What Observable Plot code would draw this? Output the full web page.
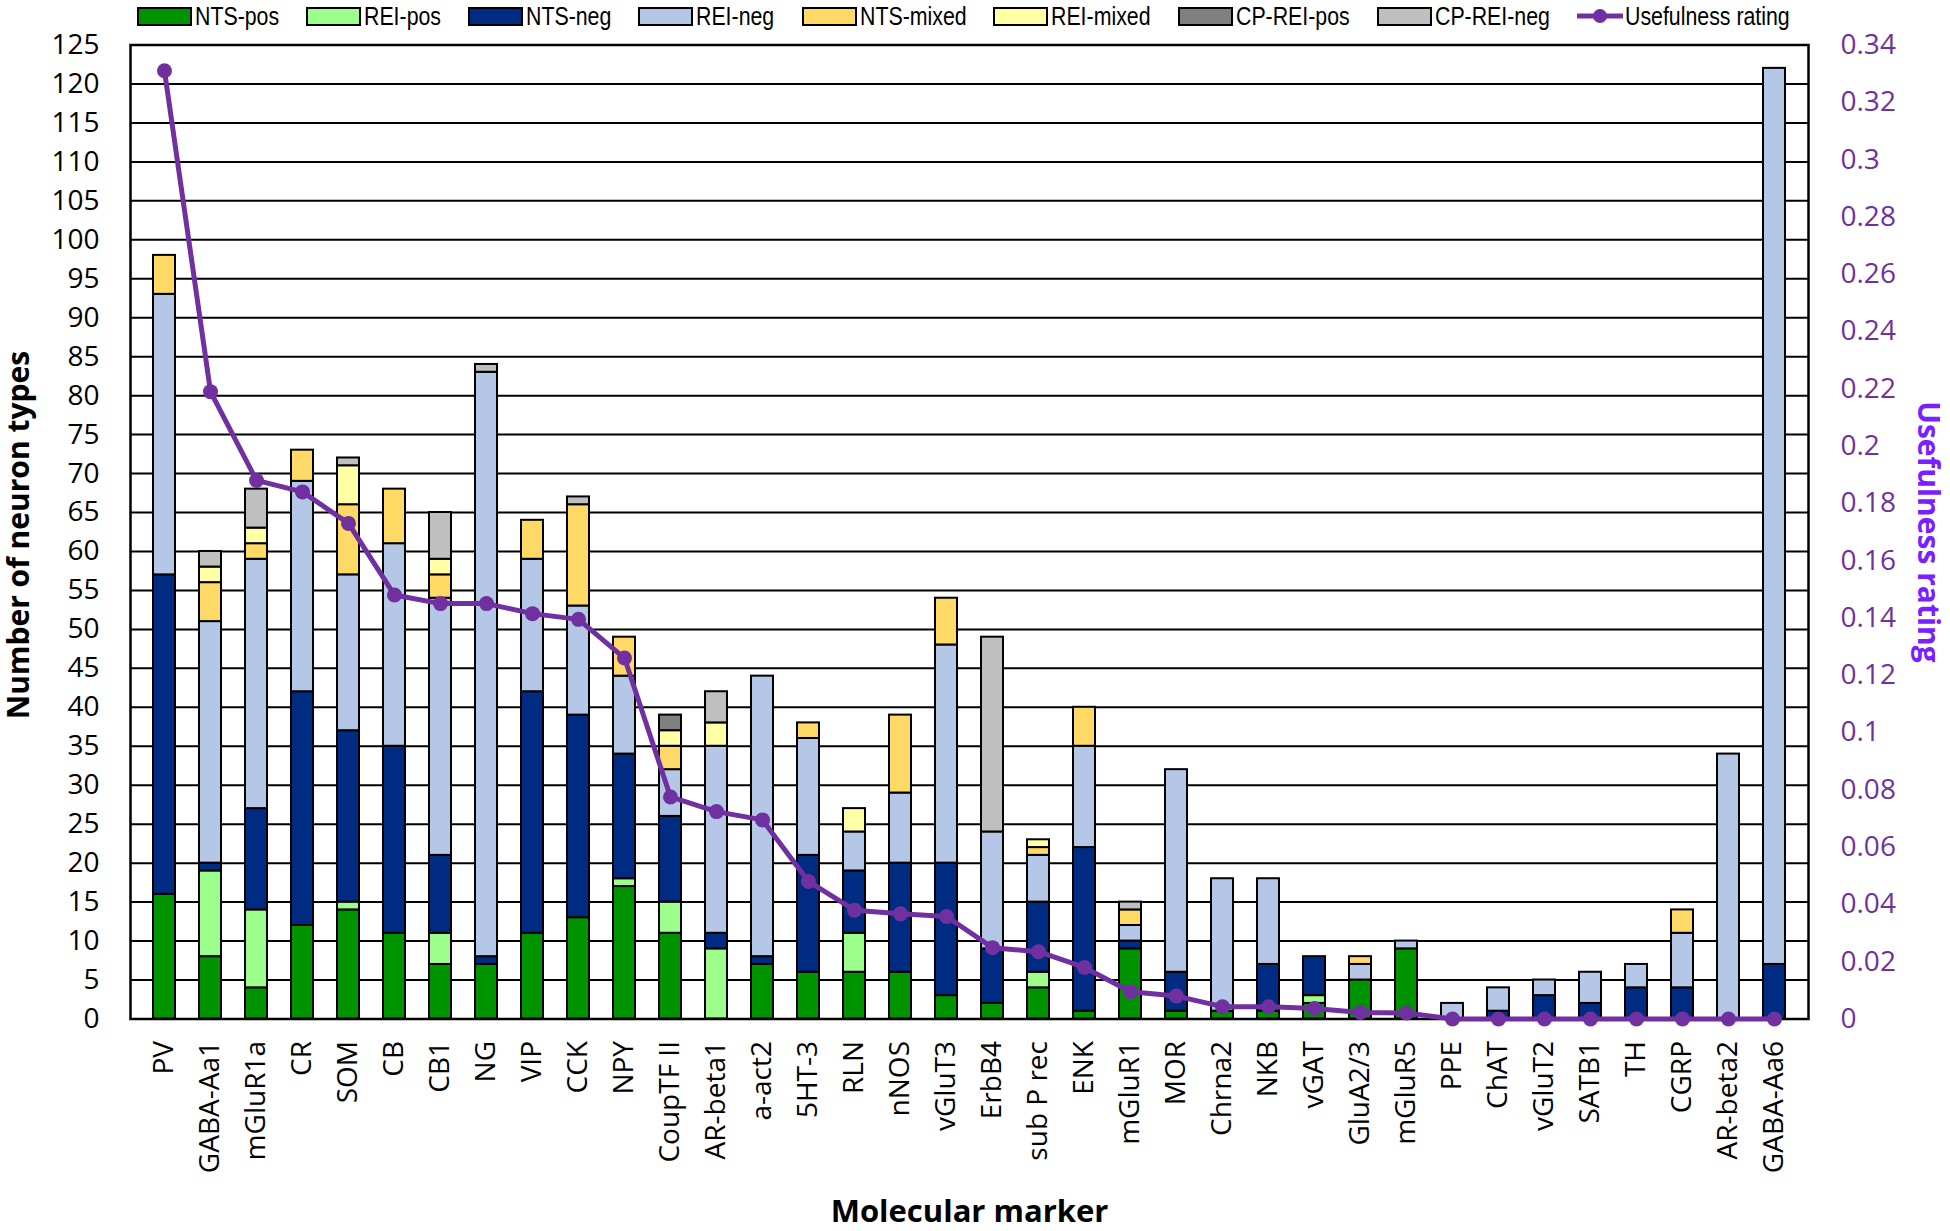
<!DOCTYPE html>
<html>
<head>
<meta charset="utf-8">
<script src="https://cdn.jsdelivr.net/npm/d3@7"></script>
<script src="https://cdn.jsdelivr.net/npm/@observablehq/plot@0.6"></script>
<style>
  body { margin: 0; background: #fff; width: 1950px; height: 1231px; overflow: hidden; font-family: "Open Sans", sans-serif; }
  #legend { height: 32px; display: flex; align-items: center; padding-left: 137px; box-sizing: border-box;
            font-family: "Liberation Sans", Arial, sans-serif; font-size: 26px; white-space: nowrap; color: #000; }
  .item { display: flex; align-items: center; margin-right: 27px; }
  .sw { width: 51px; height: 15px; border: 2px solid #000; margin-right: 3px; }
  .lab { display: inline-block; transform: scaleX(0.82); transform-origin: left center; }
  #chart svg { overflow: visible; }
</style>
</head>
<body>
<div id="legend"></div>
<div id="chart"></div>
<script>
// ---- data ----
const categories = ["PV","GABA-Aa1","mGluR1a","CR","SOM","CB","CB1","NG","VIP","CCK","NPY","CoupTF II","AR-beta1","a-act2","5HT-3","RLN","nNOS","vGluT3","ErbB4","sub P rec","ENK","mGluR1","MOR","Chrna2","NKB","vGAT","GluA2/3","mGluR5","PPE","ChAT","vGluT2","SATB1","TH","CGRP","AR-beta2","GABA-Aa6"];

const ntsPos   = [16,8,4,12,14,11,7,7,11,13,17,11,0,7,6,6,6,3,2,4,1,9,1,1,1,2,5,9,0,0,0,0,0,0,0,0];
const reiPos   = [0,11,10,0,1,0,4,0,0,0,1,4,9,0,0,5,0,0,0,2,0,0,0,0,0,1,0,0,0,0,0,0,0,0,0,0];
const ntsNeg   = [41,1,13,30,22,24,10,1,31,26,16,11,2,1,15,8,14,17,7,9,21,1,5,0,6,5,0,0,0,1,3,2,4,4,0,7];
const reiNeg   = [36,31,32,27,20,26,33,75,17,14,10,6,24,36,15,5,9,28,15,6,13,2,26,17,11,0,2,1,2,3,2,4,3,7,34,115];
const ntsMixed = [5,5,2,4,9,7,3,0,5,13,5,3,0,0,2,0,10,6,0,1,5,2,0,0,0,0,1,0,0,0,0,0,0,3,0,0];
const reiMixed = [0,2,2,0,5,0,2,0,0,0,0,2,3,0,0,3,0,0,0,1,0,0,0,0,0,0,0,0,0,0,0,0,0,0,0,0];
const cpReiPos = [0,0,0,0,0,0,0,0,0,0,0,2,0,0,0,0,0,0,0,0,0,0,0,0,0,0,0,0,0,0,0,0,0,0,0,0];
const cpReiNeg = [0,2,5,0,1,0,6,1,0,1,0,0,4,0,0,0,0,0,25,0,0,1,0,0,0,0,0,0,0,0,0,0,0,0,0,0];

const usefulness = [0.331,0.219,0.188,0.184,0.173,0.148,0.145,0.145,0.1415,0.1395,0.126,0.0775,0.0724,0.0695,0.048,0.038,0.0367,0.0358,0.0249,0.0235,0.018,0.0095,0.008,0.0043,0.0043,0.0037,0.0023,0.0021,0,0,0,0,0,0,0,0];

const seriesNames  = ["NTS-pos","REI-pos","NTS-neg","REI-neg","NTS-mixed","REI-mixed","CP-REI-pos","CP-REI-neg"];
const seriesValues = [ntsPos, reiPos, ntsNeg, reiNeg, ntsMixed, reiMixed, cpReiPos, cpReiNeg];
const seriesColors = ["#009300","#9cff8c","#002b82","#b4c7e7","#ffd966","#ffffa6","#808080","#bfbfbf"];
const lineName = "Usefulness rating";
const lineColor = "#7030a0";

const yTicks = [0,5,10,15,20,25,30,35,40,45,50,55,60,65,70,75,80,85,90,95,100,105,110,115,120,125];
const uTicks = [0,0.02,0.04,0.06,0.08,0.1,0.12,0.14,0.16,0.18,0.2,0.22,0.24,0.26,0.28,0.3,0.32,0.34];
const yMax = 125, uMax = 0.34;

// ---- derived tables ----
const long = [];
seriesNames.forEach((s, si) => categories.forEach((c, ci) => {
  const v = seriesValues[si][ci];
  if (v > 0) long.push({marker: c, series: s, value: v});
}));
const toY = u => u * yMax / uMax;
const rating = categories.map((c, i) => ({marker: c, u: usefulness[i]}));
const fmt = d => String(+(d * uMax / yMax).toFixed(2));

// ---- legend ----
const legend = document.getElementById("legend");
seriesNames.forEach((s, i) => {
  const it = document.createElement("div");
  it.className = "item";
  it.innerHTML = `<div class="sw" style="background:${seriesColors[i]}"></div><span class="lab">${s}</span>`;
  legend.appendChild(it);
});
{
  const it = document.createElement("div");
  it.className = "item";
  it.innerHTML = `<svg width="46" height="20" style="margin-right:2px"><line x1="0" y1="10" x2="46" y2="10" stroke="${lineColor}" stroke-width="5"/><circle cx="23" cy="10" r="7" fill="${lineColor}"/></svg><span class="lab">${lineName}</span>`;
  legend.appendChild(it);
}
// compensate layout for the horizontal squeeze of the labels
legend.querySelectorAll(".lab").forEach(el => {
  const w = el.offsetWidth;
  el.style.marginRight = (-(1 - 0.82) * w) + "px";
});

// ---- chart ----
const chart = Plot.plot({
  width: 1950,
  height: 1199,
  marginTop: 12.5,
  marginBottom: 212.5,
  marginLeft: 130,
  marginRight: 142,
  style: {fontFamily: '"Open Sans", sans-serif', fontSize: "28px", color: "#000", background: "transparent", overflow: "visible"},
  x: {domain: categories, paddingInner: 0.52, paddingOuter: 0.26, label: null},
  y: {domain: [0, yMax], label: null},
  color: {domain: seriesNames, range: seriesColors},
  marks: [
    Plot.ruleY(yTicks, {stroke: "#000", strokeWidth: 2}),
    Plot.barY(long, {x: "marker", y: "value", fill: "series", order: seriesNames, stroke: "#000", strokeWidth: 2}),
    Plot.frame({stroke: "#000", strokeWidth: 2.5}),
    Plot.axisY({ticks: yTicks, tickSize: 0, tickPadding: 31, label: null, fontSize: 28}),
    Plot.axisY({anchor: "right", ticks: uTicks.map(toY), tickFormat: fmt, tickSize: 0, tickPadding: 32, color: lineColor, label: null, fontSize: 28}),
    Plot.axisX({tickRotate: -90, tickSize: 0, tickPadding: 22, label: null, fontSize: 28}),
    Plot.line(rating, {x: "marker", y: d => toY(d.u), stroke: lineColor, strokeWidth: 5}),
    Plot.dot(rating, {x: "marker", y: d => toY(d.u), r: 7.5, fill: lineColor}),
    Plot.text(["Number of neuron types"], {text: d => d, frameAnchor: "left", textAnchor: "middle", lineAnchor: "middle", dx: -111, dy: 3, rotate: -90, fontWeight: "bold", fontSize: 30, fill: "#000"}),
    Plot.text([lineName], {text: d => d, frameAnchor: "right", textAnchor: "middle", lineAnchor: "middle", dx: 119, rotate: 90, fontWeight: "bold", fontSize: 30, fill: "#7a1fff"}),
    Plot.text(["Molecular marker"], {text: d => d, frameAnchor: "bottom", textAnchor: "middle", lineAnchor: "middle", dy: 193, fontWeight: "bold", fontSize: 31, fill: "#000"})
  ]
});
document.getElementById("chart").appendChild(chart);
</script>
</body>
</html>
